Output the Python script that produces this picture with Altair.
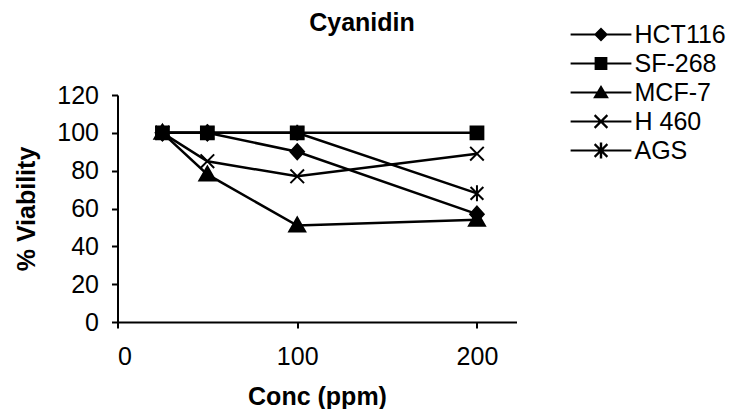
import altair as alt
import pandas as pd

conc = [25, 50, 100, 200]
series = ["HCT116", "SF-268", "MCF-7", "H 460", "AGS"]
hct116 = [100, 100, 90, 57]
sf268 = [100, 100, 100, 100]
mcf7 = [100, 78, 51, 54]
h460 = [100, 85, 77, 89]
ags = [100, 100, 100, 68]
x_ticks = [0, 100, 200]
y_ticks = [0, 20, 40, 60, 80, 100, 120]

values = [hct116, sf268, mcf7, h460, ags]
rows = []
for name, vals in zip(series, values):
    for c, v in zip(conc, vals):
        rows.append({"conc": c, "v": v, "series": name})
df = pd.DataFrame(rows)

# marker glyphs (unit coords)
marker_paths = [
    "M0,-0.95L0.85,0L0,0.95L-0.85,0Z",
    "M-0.8,-0.8H0.8V0.8H-0.8Z",
    "M0,-1L1,0.75H-1Z",
    "M-0.85,-0.85L0.85,0.85M-0.85,0.85L0.85,-0.85",
    "M-0.8,-0.8L0.8,0.8M-0.8,0.8L0.8,-0.8M0,-1V1",
]
# legend glyphs drawn as filled outlines: line through the marker
LINE = "M-2,-0.07V0.07H2V-0.07Z"
XSHAPE = ("M-0.47,-0.37L0.37,0.47L0.47,0.37L-0.37,-0.47Z"
          "M-0.37,0.47L0.47,-0.37L0.37,-0.47L-0.47,0.37Z")
legend_paths = [
    LINE + "M0,-0.46L-0.46,0L0,0.46L0.46,0Z",
    LINE + "M-0.42,-0.42V0.42H0.42V-0.42Z",
    LINE + "M0,-0.5L-0.52,0.38H0.52Z",
    LINE + XSHAPE,
    LINE + XSHAPE + "M-0.08,-0.52V0.52H0.08V-0.52Z",
]

FONT = "Liberation Sans"

x = alt.X(
    "conc:Q",
    scale=alt.Scale(domain=[0, 222], nice=False, zero=False),
    axis=alt.Axis(values=x_ticks, title="Conc (ppm)", titlePadding=15,
                  labelPadding=16, tickSize=6),
)
y = alt.Y(
    "v:Q",
    scale=alt.Scale(domain=[0, 120], nice=False),
    axis=alt.Axis(values=y_ticks, title="% Viability", titlePadding=17,
                  labelPadding=13, tickSize=6),
)

base = alt.Chart(df)
lines = base.mark_line(color="black", strokeWidth=2.5).encode(
    x=x, y=y, detail="series:N"
)
points = base.mark_point(
    filled=False, fill="black", stroke="black", fillOpacity=1, opacity=1,
    strokeWidth=2, size=256
).encode(
    x=x, y=y,
    shape=alt.Shape("series:N", scale=alt.Scale(domain=series, range=marker_paths), legend=None),
)
leg = base.transform_filter("datum.v < 0").mark_point(
    filled=True, color="black", opacity=1, size=924
).encode(
    x=x, y=y,
    shape=alt.Shape(
        "series:N",
        scale=alt.Scale(domain=series, range=legend_paths),
        legend=alt.Legend(
            title=None, orient="none", legendX=468, legendY=-76, padding=0,
            symbolSize=924, symbolStrokeWidth=0, symbolFillColor="black",
            symbolOpacity=1,
            labelFont=FONT, labelFontSize=25, labelColor="black",
            labelOffset=18, rowPadding=0,
        ),
    ),
)

chart = alt.layer(lines, points, leg).resolve_scale(shape="independent").properties(
    width=399,
    height=227,
    autosize=alt.AutoSizeParams(type="none"),
    padding={"left": 109.5, "top": 87, "right": 210, "bottom": 87},
    title=alt.TitleParams("Cyanidin", font=FONT, fontSize=25, fontWeight="bold",
                          anchor="middle", frame="group", dx=45, offset=0, dy=37,
                          baseline="alphabetic", color="black"),
).configure_view(stroke=None).configure_axis(
    grid=False, domainColor="black", tickColor="black", domainWidth=2, tickWidth=2,
    labelFont=FONT, labelFontSize=25, labelColor="black",
    titleFont=FONT, titleFontSize=25, titleFontWeight="bold", titleColor="black",
)

chart.save("out.html", embed_options={"renderer": "svg", "actions": False})
